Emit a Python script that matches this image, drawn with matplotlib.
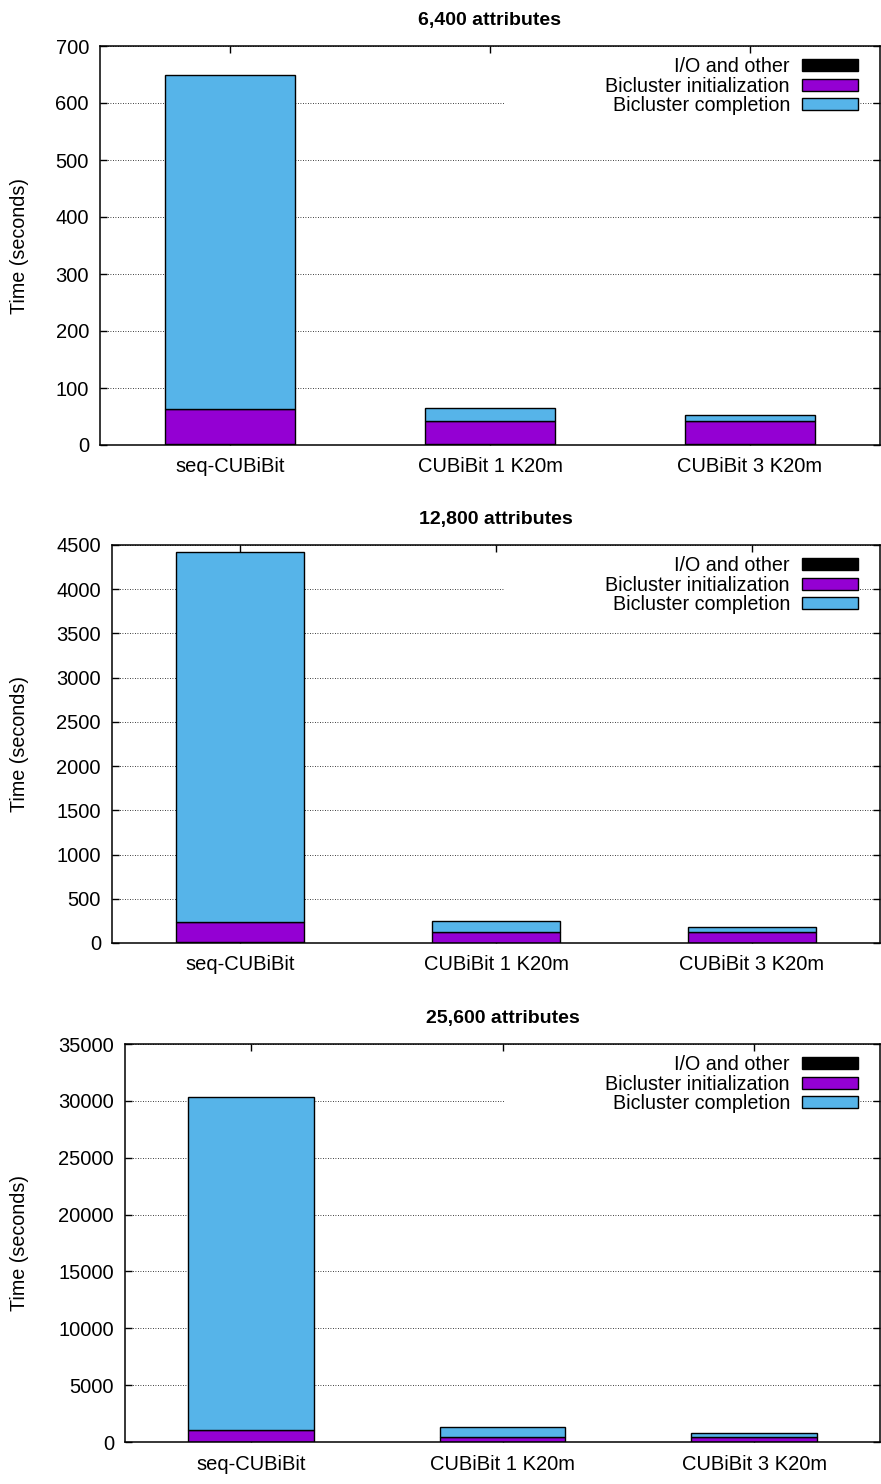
import matplotlib.pyplot as plt
from matplotlib.patches import Patch, Rectangle
import numpy as np

plt.rcParams['font.family'] = ['Liberation Sans', 'DejaVu Sans']

labels = ["seq-CUBiBit", "CUBiBit 1 K20m", "CUBiBit 3 K20m"]
titles = ["6,400 attributes", "12,800 attributes", "25,600 attributes"]

# stacked parts, seconds
io_other = [[2, 1.5, 1.5], [6, 3, 3], [40, 20, 20]]
bic_init = [[61, 41, 41], [231, 118, 118], [1015, 393, 393]]
bic_compl = [[586, 22, 11], [4184, 131, 63], [29285, 932, 352]]

ymax = [700, 4500, 35000]
ystep = [100, 500, 5000]

W, H = 881, 1484
# axes boxes in pixels: left, top, bottom
boxes = [(100, 46, 445), (112, 545, 943), (125, 1044, 1442)]

c_io = "black"
c_init = "#9400d3"
c_compl = "#56b4e9"

fig = plt.figure(figsize=(W / 100, H / 100), dpi=100)
x = np.arange(len(labels))

for i in range(3):
    l, t, b = boxes[i]
    ax = fig.add_axes([l / W, 1 - b / H, (880 - l) / W, (b - t) / H])
    io = np.array(io_other[i])
    ini = np.array(bic_init[i])
    cmp_ = np.array(bic_compl[i])
    ax.bar(x, io, 0.5, color=c_io, edgecolor="black", linewidth=1, zorder=2)
    ax.bar(x, ini, 0.5, bottom=io, color=c_init, edgecolor="black", linewidth=1, zorder=2)
    ax.bar(x, cmp_, 0.5, bottom=io + ini, color=c_compl, edgecolor="black", linewidth=1, zorder=2)

    ax.set_xlim(-0.5, 2.5)
    ax.set_ylim(0, ymax[i])
    ax.set_yticks(np.arange(0, ymax[i] + 1, ystep[i]))
    ax.set_xticks(x)
    ax.set_xticklabels(labels)
    ax.set_axisbelow(True)
    ax.grid(axis="y", linestyle=(0, (1, 2)), color="black", linewidth=0.6)
    ax.tick_params(direction="in", top=True, right=True, length=5, width=1,
                   labelsize=14.5, pad=8)
    ax.tick_params(axis="x", pad=9)
    for s in ax.spines.values():
        s.set_linewidth(1.1)

    # white box behind the key, hides the grid like gnuplot does
    w = 880 - l
    hgt = b - t
    ax.add_patch(Rectangle(((505 - l) / w, (hgt - 72) / hgt), (860 - 505) / w, 60 / hgt,
                           transform=ax.transAxes, facecolor="white", edgecolor="none",
                           zorder=1))

    handles = [Patch(facecolor=c_io, edgecolor="black"),
               Patch(facecolor=c_init, edgecolor="black"),
               Patch(facecolor=c_compl, edgecolor="black")]
    ax.legend(handles, ["I/O and other", "Bicluster initialization", "Bicluster completion"],
              loc="upper right", bbox_to_anchor=(1 - 22 / w, 1 - 11 / hgt),
              frameon=False, markerfirst=False, fontsize=14.2, borderpad=0,
              borderaxespad=0, labelspacing=0.03, handlelength=2.85, handleheight=0.55,
              handletextpad=0.6)

    ax.set_title(titles[i], fontsize=14, fontweight="bold", pad=15)
    fig.text(20 / W, 1 - (t + b) / 2 / H, "Time (seconds)", rotation=90,
             ha="center", va="center", fontsize=14.2)

plt.savefig("out.png", dpi=100)
